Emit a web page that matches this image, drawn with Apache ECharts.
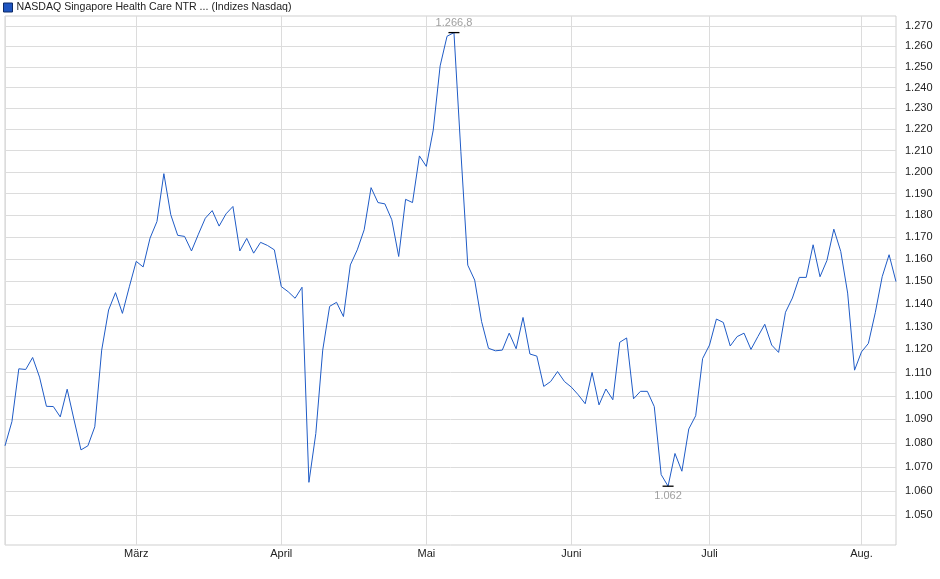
<!DOCTYPE html>
<html>
<head>
<meta charset="utf-8">
<title>NASDAQ Singapore Health Care NTR</title>
<script src="https://cdn.jsdelivr.net/npm/echarts@6.0.0/dist/echarts.min.js"></script>
<style>
  html, body { margin: 0; padding: 0; background: #fff; }
  #main { width: 940px; height: 579px; }
</style>
</head>
<body>
<div id="main"></div>
<script>
// trading days per month, first one is the start of the chart
const months = ['Feb.', 'März', 'April', 'Mai', 'Juni', 'Juli', 'Aug.'];
const daysPerMonth = [19, 21, 21, 21, 20, 22, 6];

// index closes
const closes = [
  1078.8, 1089.0, 1111.6, 1111.3, 1116.5, 1108.0, 1095.5, 1095.4, 1091.0, 1102.8,
  1089.7, 1077.1, 1078.8, 1086.8, 1119.7, 1137.3, 1145.0, 1135.8, 1147.6, 1159.0,
  1156.5, 1169.5, 1177.1, 1199.2, 1180.2, 1170.8, 1170.3, 1163.7, 1171.3, 1178.6,
  1182.1, 1175.0, 1180.6, 1184.0, 1163.7, 1169.4, 1162.7, 1167.6, 1166.2, 1164.2,
  1147.7, 1145.4, 1142.5, 1147.4, 1063.6, 1084.0, 1119.7, 1138.9, 1140.7, 1134.4,
  1157.4, 1164.2, 1173.3, 1192.7, 1185.8, 1185.2, 1177.9, 1161.2, 1187.3, 1185.8,
  1207.5, 1202.6, 1219.7, 1250.5, 1265.0, 1266.8, 1209.5, 1157.3, 1150.6, 1132.2,
  1120.5, 1119.4, 1119.7, 1127.1, 1120.3, 1134.0, 1118.0, 1117.1, 1104.0, 1106.1,
  1110.4, 1106.1, 1103.7, 1100.4, 1096.6, 1110.0, 1096.1, 1102.9, 1098.3, 1123.1,
  1125.0, 1098.7, 1101.9, 1101.9, 1095.4, 1066.8, 1062.0, 1075.6, 1068.2, 1085.9,
  1091.5, 1116.0, 1121.9, 1133.3, 1131.8, 1121.5, 1125.6, 1127.1, 1120.0, 1125.6,
  1131.0, 1121.9, 1118.7, 1136.3, 1142.6, 1151.8, 1151.8, 1166.5, 1152.1, 1159.4,
  1173.6, 1163.5, 1144.8, 1111.0, 1118.9, 1122.6, 1136.1, 1152.1, 1162.0, 1149.9
];

const yTicks = [1050, 1060, 1070, 1080, 1090, 1100, 1110, 1120, 1130, 1140, 1150, 1160,
  1170, 1180, 1190, 1200, 1210, 1220, 1230, 1240, 1250, 1260, 1270];

const seriesName = 'NASDAQ Singapore Health Care NTR ... (Indizes Nasdaq)';

// german number format: 1266.8 -> "1.266,8"
function fmtDe(v, dec) {
  const parts = v.toFixed(dec).split('.');
  const int = parts[0].replace(/\B(?=(\d{3})+(?!\d))/g, '.');
  if (parts[1] && !/^0+$/.test(parts[1])) return int + ',' + parts[1];
  return int;
}

// category per trading day, remember where each month starts
const days = [];
const monthLabel = {};
months.forEach((m, mi) => {
  for (let d = 1; d <= daysPerMonth[mi]; d++) {
    if (d === 1) monthLabel[days.length] = mi === 0 ? '' : m;
    days.push(m + ' ' + d);
  }
});
const isMonthStart = (idx) => monthLabel[idx] !== undefined;

// the chart uses a log price scale, so plot ln(close)
const logCloses = closes.map(v => Math.log(v));
const logTicks = yTicks.map(v => Math.log(v));

const myChart = echarts.init(document.getElementById('main'));
const chartOpts = {
  animation: false,
  textStyle: { fontFamily: '"Liberation Sans", Arial, sans-serif' },
  legend: {
    left: 1,
    top: 0,
    padding: 2,
    icon: 'rect',
    itemWidth: 9,
    itemHeight: 9,
    itemGap: 5,
    selectedMode: false,
    textStyle: { fontSize: 10.6, color: '#222', padding: [0, 0, 0, -1] },
    data: [{ name: seriesName, itemStyle: { color: '#1f55c0', borderColor: '#0d2a66', borderWidth: 1 } }]
  },
  grid: {
    left: 5,
    right: 44,
    top: 16,
    bottom: 34,
    show: true,
    borderColor: '#cfcfcf',
    borderWidth: 1,
    containLabel: false
  },
  xAxis: {
    type: 'category',
    data: days,
    boundaryGap: false,
    axisLine: { show: false },
    axisTick: { show: false },
    axisLabel: {
      interval: (idx) => isMonthStart(idx),
      formatter: (val, idx) => monthLabel[idx] || '',
      fontSize: 11,
      color: '#222',
      margin: 3,
      fontFamily: '"Liberation Sans Narrow", "Liberation Sans", Arial, sans-serif'
    },
    splitLine: {
      show: true,
      interval: (idx) => isMonthStart(idx),
      lineStyle: { color: '#dcdcdc', width: 1 }
    }
  },
  yAxis: {
    type: 'value',
    position: 'right',
    min: Math.log(1038),
    max: Math.log(1275),
    axisLine: { show: false },
    axisTick: { show: false, customValues: logTicks },
    axisLabel: {
      customValues: logTicks,
      formatter: (v) => fmtDe(Math.exp(v), 0),
      fontSize: 11,
      color: '#222',
      margin: 9
    },
    splitLine: { show: true, lineStyle: { color: '#dcdcdc', width: 1 } }
  },
  series: [
    {
      name: seriesName,
      type: 'line',
      data: logCloses,
      showSymbol: false,
      symbol: 'none',
      color: '#1f55c0',
      lineStyle: { color: '#1f5bc6', width: 1 },
      markPoint: {
        symbol: 'rect',
        symbolSize: [11, 1.3],
        itemStyle: { color: '#000' },
        label: {
          fontSize: 11,
          color: '#a0a0a0',
          formatter: (p) => fmtDe(Math.exp(p.value), 1)
        },
        data: [
          { type: 'max', label: { position: 'top', distance: 3 } },
          { type: 'min', label: { position: 'bottom', distance: 4 } }
        ]
      }
    }
  ]
};
myChart.setOption(chartOpts);
</script>
</body>
</html>
